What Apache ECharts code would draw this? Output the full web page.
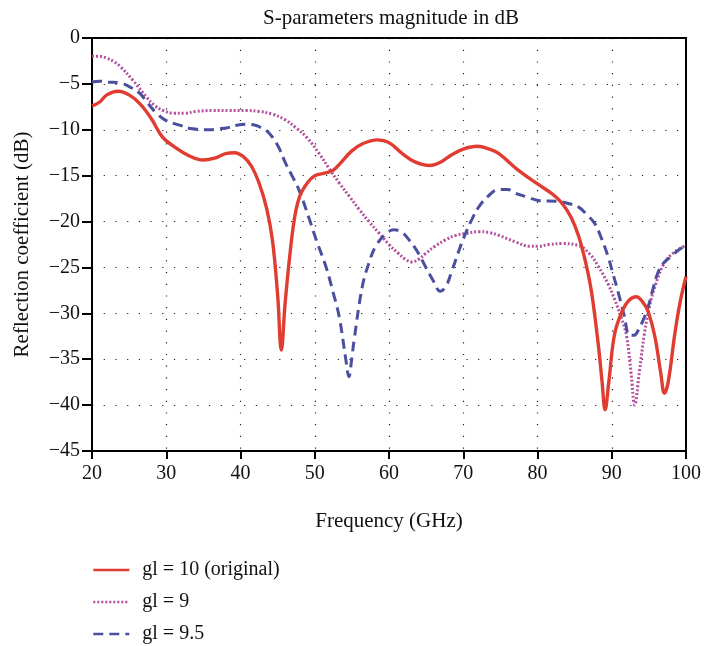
<!DOCTYPE html>
<html>
<head>
<meta charset="utf-8">
<script src="https://cdn.jsdelivr.net/npm/echarts@6/dist/echarts.min.js"></script>
<style>
html,body{margin:0;padding:0;background:#fff;}
#chart{width:704px;height:646px;}
</style>
</head>
<body>
<div id="chart"></div>
<script>
// ---- data ----
const seriesNames = ['gl = 10 (original)', 'gl = 9', 'gl = 9.5'];
const xTicks = [20, 30, 40, 50, 60, 70, 80, 90, 100];
const yTicks = [0, -5, -10, -15, -20, -25, -30, -35, -40, -45];

const freqGl10 = [20,21,22,23.5,25,26.5,28,29.5,31,33,35,36.5,38,39.2,40.5,41.5,42.5,43.5,44.3,45,45.5,46,46.6,47.3,48,49,50,51.5,52.5,53.5,55,56.5,58.4,60,61.8,63.5,65.5,67,68.5,70,71.9,73.5,74.8,77.4,80,82,83.3,84.5,85.5,86.5,87.3,88.2,88.7,89.1,89.6,90.4,91.5,92.3,93.3,94.2,94.9,95.8,96.6,97.1,97.6,98.5,99.2,100];
const valGl10 = [-7.4,-7.0,-6.2,-5.8,-6.2,-7.2,-8.8,-10.8,-11.8,-12.8,-13.3,-13.1,-12.6,-12.5,-13.0,-14.0,-15.8,-18.5,-22,-28,-34,-29,-24,-19.5,-17.2,-15.8,-15.0,-14.7,-14.4,-13.6,-12.3,-11.5,-11.1,-11.4,-12.6,-13.5,-13.9,-13.5,-12.7,-12.1,-11.8,-12.1,-12.6,-14.4,-15.9,-17.0,-18.0,-19.5,-21.5,-24.5,-27.8,-33.5,-37.5,-40.5,-37.5,-32.2,-29.6,-28.6,-28.2,-28.8,-29.8,-32.5,-36.5,-38.7,-37.5,-32.2,-28.8,-26];

const freqGl9 = [20,21,22,23,23.8,25.5,27.3,28.5,29.6,31,32.5,34,36.3,38.5,40.8,42.5,44.3,46,47.5,49,50.6,52,53.3,54.7,56,57.3,58.7,60,61.3,62.2,63.1,64,64.9,66.2,67.6,69,70.3,72.1,73.5,74.8,77,79,80.1,81.5,83.3,85.5,87,88.2,89.5,90.4,91.3,92,92.6,93.1,93.7,94.4,95.1,95.8,97.1,98.5,100];
const valGl9 = [-2.0,-2.0,-2.2,-2.6,-3.1,-4.6,-6.4,-7.4,-7.9,-8.2,-8.2,-8.0,-7.9,-7.9,-7.9,-8.0,-8.3,-8.9,-9.8,-10.9,-12.6,-14.3,-15.8,-17.3,-18.7,-20.0,-21.3,-22.5,-23.5,-24.1,-24.4,-24.1,-23.5,-22.7,-22.0,-21.5,-21.3,-21.1,-21.2,-21.5,-22.2,-22.7,-22.7,-22.5,-22.4,-22.6,-23.5,-24.9,-26.8,-28.5,-30.5,-32.5,-36.5,-40,-36.5,-32.2,-29.2,-27.1,-24.5,-23.3,-22.6];

const freqGl95 = [20,21,22,23.8,25,26.4,27.5,28.7,30,31.8,33.5,35.8,37,38.1,39.5,40.8,42,42.6,43.5,44.3,45.2,46.1,47,47.9,49.3,50.2,51.5,52.5,53.3,54.2,54.6,55,55.3,56.4,57.3,58.2,59.5,60.7,61.8,62.7,64,64.9,66,66.9,67.7,68.5,69.4,70.3,71.2,72.1,73.4,74.8,76,77,78.5,80.1,82.8,84,85.5,86.7,87.7,88.6,89.5,90.2,90.9,91.7,92.4,93,93.6,94.2,94.9,95.5,96.2,97,98,99,100];
const valGl95 = [-4.8,-4.7,-4.8,-4.9,-5.3,-6.0,-7.1,-8.2,-9.0,-9.5,-9.9,-10.0,-9.9,-9.8,-9.5,-9.4,-9.5,-9.7,-10.1,-10.8,-12.0,-13.7,-15.1,-16.6,-19.8,-22,-24.9,-27.8,-30.4,-35.1,-36.9,-34.8,-32.9,-27.1,-24.5,-22.7,-21.4,-20.9,-21.2,-22.0,-23.5,-24.9,-26.5,-27.6,-27.0,-25.3,-23.2,-21.3,-19.7,-18.4,-17.2,-16.5,-16.5,-16.9,-17.3,-17.7,-17.8,-18.0,-18.4,-19.3,-20.2,-21.8,-23.8,-25.8,-27.8,-30.3,-32.4,-32.4,-31.8,-30.8,-29.3,-27.5,-25.6,-24.5,-23.8,-23.1,-22.6];

function zip(xs, ys) { return xs.map((x, i) => [x, ys[i]]); }

const FONT = '"Liberation Serif", "DejaVu Serif", serif';
const chart = echarts.init(document.getElementById('chart'), null, {renderer: 'canvas'});
const fmt = v => (v < 0 ? '\u2212' + Math.abs(v) : String(v));

chart.setOption({
  animation: false,
  backgroundColor: '#fff',
  title: {
    text: 'S-parameters magnitude in dB',
    left: 386, top: 3, textAlign: 'center',
    textStyle: {fontFamily: FONT, fontSize: 21, fontWeight: 'normal', color: '#111'}
  },
  grid: {left: 92, right: 16, top: 38, bottom: 195, show: true, borderColor: '#000', borderWidth: 2, backgroundColor: 'transparent'},
  legend: {
    orient: 'vertical', left: 92, top: 560, padding: 0, itemGap: 12, itemWidth: 36, itemHeight: 20,
    textStyle: {fontFamily: FONT, fontSize: 20, color: '#111', padding: [0, 0, 0, 8]},
    itemStyle: {opacity: 0},
    lineStyle: {width: 2.6},
    data: seriesNames
  },
  xAxis: {
    type: 'value', min: 20, max: 100, interval: 10,
    name: 'Frequency (GHz)', nameLocation: 'middle', nameGap: 60,
    nameTextStyle: {fontFamily: FONT, fontSize: 21, color: '#111'},
    axisLine: {show: true, onZero: false, lineStyle: {color: '#000', width: 2}},
    axisTick: {show: true, inside: false, length: 8, lineStyle: {color: '#000', width: 2}},
    axisLabel: {fontFamily: FONT, fontSize: 20, color: '#111', margin: 13, formatter: fmt},
    splitLine: {show: true, lineStyle: {color: '#222', width: 1.2, type: [1.2, 10.5]}}
  },
  yAxis: {
    type: 'value', min: -45, max: 0, interval: 5,
    name: 'Reflection coefficient (dB)', nameLocation: 'middle', nameGap: 59,
    nameTextStyle: {fontFamily: FONT, fontSize: 21, color: '#111'},
    axisLine: {show: true, onZero: false, lineStyle: {color: '#000', width: 2}},
    axisTick: {show: true, inside: false, length: 10, lineStyle: {color: '#000', width: 2}},
    axisLabel: {fontFamily: FONT, fontSize: 20, color: '#111', margin: 12, formatter: fmt},
    splitLine: {show: true, lineStyle: {color: '#222', width: 1.2, type: [1.2, 10.5]}}
  },
  series: [
    {name: seriesNames[0], type: 'line', data: zip(freqGl10, valGl10), showSymbol: false, symbol: 'none', smooth: 0.4,
     lineStyle: {color: '#e03c31', width: 3.4, type: 'solid'}, itemStyle: {color: '#e03c31'}, z: 3},
    {name: seriesNames[1], type: 'line', data: zip(freqGl9, valGl9), showSymbol: false, symbol: 'none', smooth: 0.4,
     lineStyle: {color: '#b34f9c', width: 3, type: [2, 2]}, itemStyle: {color: '#b34f9c'}, z: 2},
    {name: seriesNames[2], type: 'line', data: zip(freqGl95, valGl95), showSymbol: false, symbol: 'none', smooth: 0.4,
     lineStyle: {color: '#4a4f9e', width: 3, type: [10, 6]}, itemStyle: {color: '#4a4f9e'}, z: 2}
  ]
});
</script>
</body>
</html>
